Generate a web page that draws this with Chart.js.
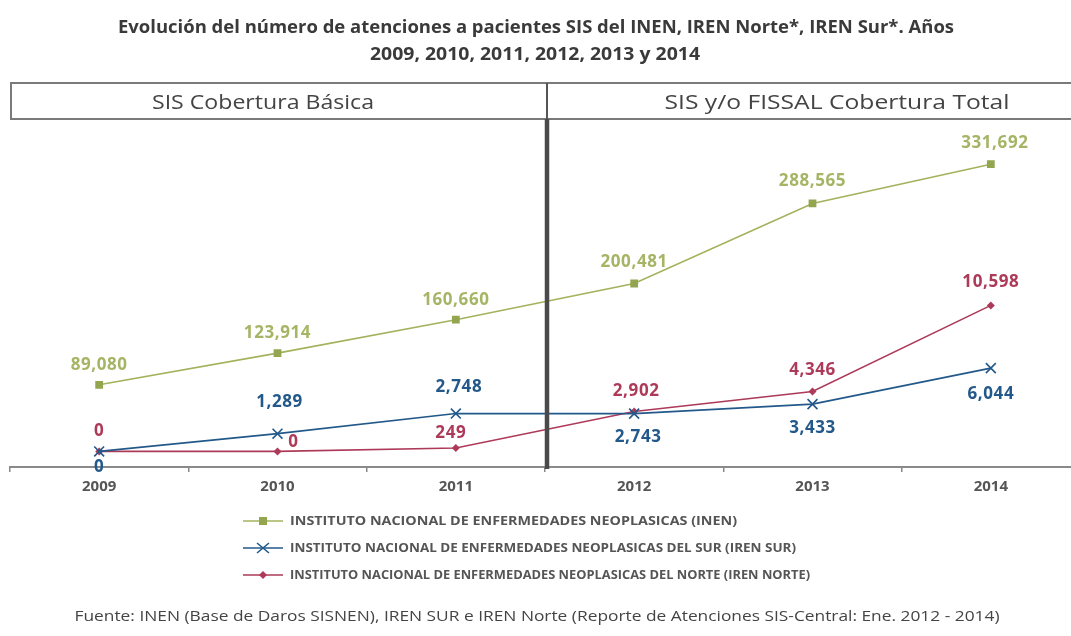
<!DOCTYPE html>
<html>
<head>
<meta charset="utf-8">
<script src="https://cdn.jsdelivr.net/npm/chart.js@4.4.1/dist/chart.umd.min.js"></script>
<style>
  html, body { margin: 0; padding: 0; background: #fff; overflow: hidden; }
  #wrap { width: 1071px; height: 636px; position: relative; overflow: hidden; }
</style>
</head>
<body>
<div id="wrap"><canvas id="chart" width="1090" height="636"></canvas></div>
<script>
// data
const years = ['2009', '2010', '2011', '2012', '2013', '2014'];
const inen = [89080, 123914, 160660, 200481, 288565, 331692];
const irenSur = [0, 1289, 2748, 2743, 3433, 6044];
const irenNorte = [0, 0, 249, 2902, 4346, 10598];

const legendNames = [
    'INSTITUTO NACIONAL DE ENFERMEDADES NEOPLASICAS (INEN)',
    'INSTITUTO NACIONAL DE ENFERMEDADES NEOPLASICAS DEL SUR (IREN SUR)',
    'INSTITUTO NACIONAL DE ENFERMEDADES NEOPLASICAS DEL NORTE (IREN NORTE)'
];
const titleLines = [
    'Evolución del número de atenciones a pacientes SIS del INEN, IREN Norte*, IREN Sur*. Años',
    '2009, 2010, 2011, 2012, 2013 y 2014'
];
const headers = ['SIS Cobertura Básica', 'SIS y/o FISSAL Cobertura Total'];
const source = 'Fuente: INEN (Base de Daros SISNEN), IREN SUR e IREN Norte (Reporte de Atenciones SIS-Central: Ene. 2012 - 2014)';

// where each value label sits relative to its point [dx, dy]
const labelPos = [
    [[0, -20], [0, -20], [0, -20], [0, -21], [0, -22], [4, -21]],
    [[0, 16], [2, -31], [3, -26], [4, 24], [0, 24], [0, 26]],
    [[0, -20], [16, -9], [-5, -15], [2, -20], [0, -21], [0, -23]]
];

const GREEN = '#a2b35c';
const GREEN_TXT = '#a6b565';
const BLUE = '#22598a';
const RED = '#ad3a58';

function fitText(ctx, text, cx, cy, width) {
    const w = ctx.measureText(text).width;
    ctx.save();
    ctx.translate(cx, cy);
    ctx.scale(width / w, 1);
    ctx.fillText(text, 0, 0);
    ctx.restore();
}

const decorPlugin = {
    id: 'decor',
    afterDatasetsDraw(chart) {
        const ctx = chart.ctx;
        const x = chart.scales.x;
        ctx.save();

        // header box
        ctx.strokeStyle = '#7a7a7a';
        ctx.lineWidth = 2;
        ctx.beginPath();
        ctx.moveTo(1090, 83);
        ctx.lineTo(11, 83);
        ctx.lineTo(11, 119);
        ctx.lineTo(1090, 119);
        ctx.stroke();

        const midX = (x.getPixelForValue(2) + x.getPixelForValue(3)) / 2 + 2;
        ctx.lineWidth = 2;
        ctx.strokeStyle = '#555';
        ctx.beginPath();
        ctx.moveTo(midX, 83);
        ctx.lineTo(midX, 119);
        ctx.stroke();
        // thick divider
        ctx.lineWidth = 4.5;
        ctx.strokeStyle = '#4a4a4a';
        ctx.beginPath();
        ctx.moveTo(midX, 119);
        ctx.lineTo(midX, 469);
        ctx.stroke();

        ctx.fillStyle = '#444';
        ctx.textAlign = 'center';
        ctx.textBaseline = 'middle';
        ctx.font = '20px "Open Sans"';
        fitText(ctx, headers[0], 263, 103, 222);
        fitText(ctx, headers[1], 837, 103, 345);

        // title
        ctx.fillStyle = '#3a3a3a';
        ctx.font = 'bold 18px "Open Sans"';
        fitText(ctx, titleLines[0], 536, 28, 836);
        fitText(ctx, titleLines[1], 535, 55, 330);

        // value labels
        const sets = [inen, irenSur, irenNorte];
        const cols = [GREEN_TXT, BLUE, RED];
        ctx.font = 'bold 17px "Open Sans"';
        ctx.letterSpacing = '0.6px';
        sets.forEach((vals, d) => {
            const meta = chart.getDatasetMeta(d);
            ctx.fillStyle = cols[d];
            vals.forEach((v, i) => {
                const p = meta.data[i];
                const [dx, dy] = labelPos[d][i];
                ctx.fillText(v.toLocaleString('en-US'), p.x + dx, p.y + dy);
            });
        });
        ctx.letterSpacing = '0px';

        // legend
        const ly = [521, 548, 575];
        ctx.textAlign = 'left';
        ctx.font = 'bold 13px "Open Sans"';
        const lw = [447, 506, 520];
        [GREEN, BLUE, RED].forEach((c, i) => {
            ctx.strokeStyle = c;
            ctx.lineWidth = 1.5;
            ctx.beginPath();
            ctx.moveTo(243, ly[i]);
            ctx.lineTo(283, ly[i]);
            ctx.stroke();
            ctx.fillStyle = c;
            if (i === 0) {
                ctx.fillStyle = '#93a64f';
                ctx.fillRect(259, ly[i] - 4, 8, 8);
            } else if (i === 1) {
                ctx.lineWidth = 1.6;
                ctx.beginPath();
                ctx.moveTo(257, ly[i] - 5); ctx.lineTo(269, ly[i] + 5);
                ctx.moveTo(269, ly[i] - 5); ctx.lineTo(257, ly[i] + 5);
                ctx.stroke();
            } else {
                ctx.beginPath();
                ctx.moveTo(263, ly[i] - 4); ctx.lineTo(267, ly[i]);
                ctx.lineTo(263, ly[i] + 4); ctx.lineTo(259, ly[i]);
                ctx.closePath();
                ctx.fill();
            }
            ctx.fillStyle = '#555';
            const w = ctx.measureText(legendNames[i]).width;
            ctx.save();
            ctx.translate(290, ly[i]);
            ctx.scale(lw[i] / w, 1);
            ctx.fillText(legendNames[i], 0, 0);
            ctx.restore();
        });

        // source
        ctx.textAlign = 'center';
        ctx.fillStyle = '#444';
        ctx.font = '14px "Open Sans"';
        fitText(ctx, source, 537, 617, 925);

        ctx.restore();
    }
};

new Chart(document.getElementById('chart').getContext('2d'), {
    type: 'line',
    data: {
        labels: years,
        datasets: [{
            label: legendNames[0],
            data: inen,
            yAxisID: 'y',
            borderColor: GREEN,
            backgroundColor: '#93a64f',
            borderWidth: 1.6,
            pointStyle: 'rect',
            pointRadius: 5.5,
            pointBorderWidth: 0,
            tension: 0
        }, {
            label: legendNames[1],
            data: irenSur,
            yAxisID: 'y2',
            borderColor: BLUE,
            backgroundColor: BLUE,
            borderWidth: 1.6,
            pointStyle: 'crossRot',
            pointRadius: 7,
            pointBorderWidth: 1.6,
            tension: 0
        }, {
            label: legendNames[2],
            data: irenNorte,
            yAxisID: 'y2',
            borderColor: RED,
            backgroundColor: RED,
            borderWidth: 1.6,
            pointStyle: 'rectRot',
            pointRadius: 4,
            pointBorderWidth: 0,
            tension: 0
        }]
    },
    options: {
        responsive: false,
        animation: false,
        layout: { padding: { top: 119, left: 10, right: 10, bottom: 134 } },
        plugins: {
            legend: { display: false },
            title: { display: false },
            tooltip: { enabled: false }
        },
        scales: {
            x: {
                type: 'category',
                offset: true,
                grid: {
                    offset: true,
                    drawOnChartArea: false,
                    drawTicks: true,
                    tickLength: 5,
                    color: '#888',
                    lineWidth: 1.5
                },
                border: { color: '#8a8a8a', width: 2 },
                ticks: {
                    color: '#555',
                    padding: 6,
                    font: { family: '"Open Sans"', size: 15, weight: 'bold' }
                }
            },
            y: { display: false, min: -1330, max: 381400 },
            y2: { display: false, min: -1131, max: 24124 }
        }
    },
    plugins: [decorPlugin]
});
</script>
</body>
</html>
